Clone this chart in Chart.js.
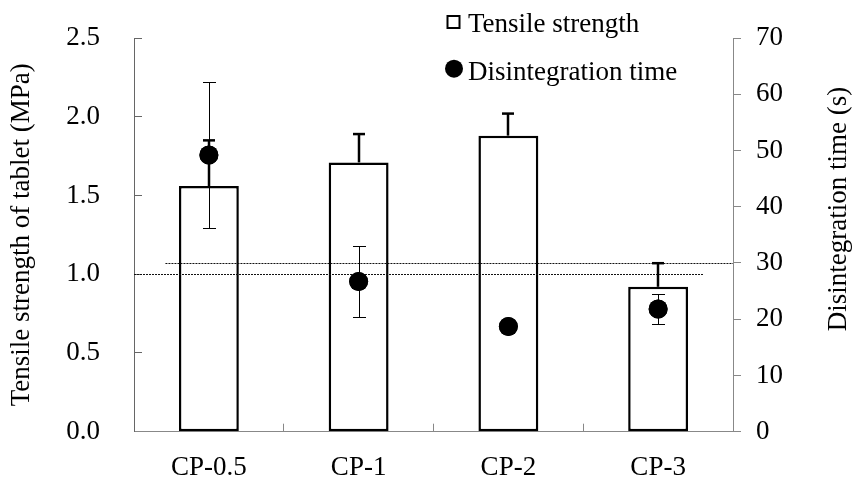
<!DOCTYPE html>
<html lang="en">
<head>
  <meta charset="UTF-8">
  <title>Tensile strength and disintegration time</title>
  <style>
    body { margin: 0; background: #fff; }
    canvas { display: block; }
  </style>
</head>
<body>
  <canvas id="chart" width="856" height="481"></canvas>

  <script src="https://cdn.jsdelivr.net/npm/chart.js"></script>
  <script>
    // formulations
    const categories = ['CP-0.5', 'CP-1', 'CP-2', 'CP-3'];

    // tensile strength of tablet (MPa), mean and SD (upper side shown)
    const tensile = [1.56, 1.71, 1.88, 0.92];
    const tensileErr = [0.29, 0.18, 0.14, 0.15];

    // disintegration time (s), mean and SD
    const disint = [49.2, 26.7, 18.7, 21.8];
    const disintErr = [13.0, 6.3, 0, 2.7];

    // reference levels, with their extent along the category axis
    const tensileLimit = 1.0;
    const timeLimit = 30;
    const tensileLimitSpan = [-0.5, 3.3];
    const timeLimitSpan = [-0.29, 3.5];

    // axis ticks
    const leftTicks = { min: 0, max: 2.5, step: 0.5 };
    const rightTicks = { min: 0, max: 70, step: 10 };

    const FONT = '"Liberation Serif", "Times New Roman", serif';
    const FS = 27;

    // fixed box sizes so the plot area lands where it should
    function fixBox(size) {
      return s => {
        if (s.isHorizontal()) s.height = size; else s.width = size;
        s.paddingTop = s.paddingBottom = s.paddingLeft = s.paddingRight = 0;
      };
    }

    const overlay = {
      id: 'overlay',
      afterDatasetsDraw(chart) {
        const { ctx, scales } = chart;
        const x = scales.x, yL = scales.y, yR = scales.y2;
        const seg = (x1, y1, x2, y2) => {
          ctx.beginPath(); ctx.moveTo(x1, y1); ctx.lineTo(x2, y2); ctx.stroke();
        };
        ctx.save();

        // dotted reference levels
        ctx.strokeStyle = '#111';
        ctx.lineWidth = 1;
        ctx.setLineDash([2, 1]);
        const level = (scale, v, span) => {
          const py = Math.round(scale.getPixelForValue(v)) + 0.5;
          seg(x.getPixelForValue(span[0]), py, x.getPixelForValue(span[1]), py);
        };
        level(yL, tensileLimit, tensileLimitSpan);
        level(yR, timeLimit, timeLimitSpan);
        ctx.setLineDash([]);

        ctx.strokeStyle = '#000';
        // heavy one-sided bars on the columns
        ctx.lineWidth = 2.5;
        tensile.forEach((v, i) => {
          const px = Math.round(x.getPixelForValue(i));
          const y0 = yL.getPixelForValue(v);
          const y1 = yL.getPixelForValue(v + tensileErr[i]);
          seg(px, y0, px, y1);
          seg(px - 6, y1, px + 6, y1);
        });

        // thin two-sided bars on the points
        ctx.lineWidth = 1;
        disint.forEach((v, i) => {
          if (!disintErr[i]) return;
          const px = Math.round(x.getPixelForValue(i)) + 0.5;
          const hi = Math.round(yR.getPixelForValue(v + disintErr[i])) + 0.5;
          const lo = Math.round(yR.getPixelForValue(v - disintErr[i])) + 0.5;
          seg(px, hi, px, lo);
          seg(px - 6.5, hi, px + 6.5, hi);
          seg(px - 6.5, lo, px + 6.5, lo);
        });

        // redraw points on top of lines and whiskers
        const meta = chart.getDatasetMeta(1);
        ctx.fillStyle = '#000';
        meta.data.forEach(p => {
          ctx.beginPath(); ctx.arc(p.x, p.y, 9.5, 0, Math.PI * 2); ctx.fill();
        });
        ctx.restore();
      },
      afterDraw(chart) {
        const { ctx } = chart;
        ctx.save();
        ctx.font = FS + 'px ' + FONT;
        ctx.fillStyle = '#000';
        ctx.textAlign = 'left';
        ctx.textBaseline = 'alphabetic';

        // legend
        ctx.strokeStyle = '#000';
        ctx.lineWidth = 2;
        ctx.strokeRect(447.5, 16, 12, 12);
        ctx.fillText(chart.data.datasets[0].label, 468, 31.7);
        ctx.beginPath(); ctx.arc(454, 68.7, 9, 0, Math.PI * 2); ctx.fill();
        ctx.fillText(chart.data.datasets[1].label, 468, 80);

        // right axis title, reading upwards
        ctx.translate(839, 209);
        ctx.rotate(-Math.PI / 2);
        ctx.textAlign = 'center';
        ctx.textBaseline = 'middle';
        ctx.fillText('Disintegration time (s)', 0, 0);
        ctx.restore();
      }
    };

    const ctx = document.getElementById('chart').getContext('2d');

    new Chart(ctx, {
      type: 'bar',
      data: {
        labels: categories,
        datasets: [
          {
            label: 'Tensile strength',
            data: tensile,
            yAxisID: 'y',
            backgroundColor: '#fff',
            borderColor: '#000',
            borderWidth: 2.5,
            borderSkipped: false,
            barPercentage: 0.4,
            categoryPercentage: 1.0,
            order: 2
          },
          {
            type: 'line',
            label: 'Disintegration time',
            data: disint,
            yAxisID: 'y2',
            showLine: false,
            pointRadius: 9.5,
            pointHoverRadius: 9.5,
            pointBackgroundColor: '#000',
            pointBorderWidth: 0,
            order: 1
          }
        ]
      },
      options: {
        responsive: false,
        animation: false,
        layout: { padding: { top: 38, left: 0, right: 0, bottom: 0 } },
        plugins: {
          legend: { display: false },
          tooltip: { enabled: false }
        },
        scales: {
          x: {
            type: 'category',
            offset: true,
            grid: {
              offset: true,
              drawOnChartArea: false,
              drawTicks: true,
              tickLength: -8,
              color: '#888'
            },
            border: { color: '#888', width: 1 },
            ticks: {
              color: '#000',
              font: { family: FONT, size: FS },
              padding: 28
            },
            afterFit: fixBox(49.3)
          },
          y: {
            position: 'left',
            min: leftTicks.min,
            max: leftTicks.max,
            grid: {
              drawOnChartArea: false,
              drawTicks: true,
              tickLength: -8,
              color: '#666'
            },
            border: { color: '#666', width: 1 },
            ticks: {
              stepSize: leftTicks.step,
              color: '#000',
              font: { family: FONT, size: FS },
              padding: 42,
              callback: v => v.toFixed(1)
            },
            title: {
              display: true,
              text: 'Tensile strength of tablet (MPa)',
              color: '#000',
              font: { family: FONT, size: FS },
              padding: { top: 6, bottom: 0 }
            },
            afterFit: fixBox(134)
          },
          y2: {
            position: 'right',
            min: rightTicks.min,
            max: rightTicks.max,
            grid: {
              drawOnChartArea: false,
              drawTicks: true,
              tickLength: 8,
              color: '#888'
            },
            border: { color: '#888', width: 1 },
            ticks: {
              stepSize: rightTicks.step,
              color: '#000',
              font: { family: FONT, size: FS },
              padding: 15
            },
            afterFit: fixBox(123)
          }
        }
      },
      plugins: [overlay]
    });
  </script>
</body>
</html>
